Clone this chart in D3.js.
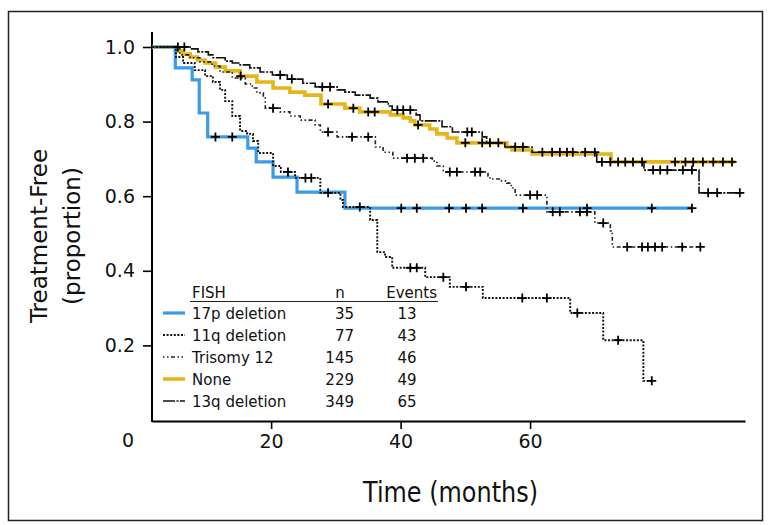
<!DOCTYPE html>
<html>
<head>
<meta charset="utf-8">
<script src="https://cdn.jsdelivr.net/npm/d3@7"></script>
<style>
  body { margin: 0; background: #fff; }
  text { font-family: "DejaVu Sans", sans-serif; fill: #111; }
</style>
</head>
<body>
<script>
// Kaplan-Meier step data (months, proportion treatment-free)
var months17p = [0, 5.2, 7.8, 8.9, 10.2, 16.4, 17.7, 20.3, 24.0, 31.4, 85.0];
var surv17p   = [1.0, 0.944, 0.912, 0.823, 0.759, 0.729, 0.692, 0.651, 0.611, 0.568, 0.568];
var cens17p   = [11.4, 14.0, 40.1, 42.5, 47.5, 50.1, 52.6, 58.9, 68.8, 78.8, 85.0];

var months11q = [0, 5.3, 6.4, 8.2, 9.8, 11.0, 12.1, 12.9, 14.0, 15.2, 16.3, 17.2, 18.0, 20.3, 21.5, 23.7, 27.6, 30.7, 31.1, 35.3, 36.4, 37.6, 38.7, 43.8, 47.6, 52.7, 66.2, 71.3, 77.5, 78.8];
var surv11q   = [1.0, 0.973, 0.957, 0.938, 0.922, 0.906, 0.885, 0.855, 0.815, 0.775, 0.767, 0.748, 0.716, 0.681, 0.665, 0.649, 0.609, 0.590, 0.571, 0.536, 0.450, 0.437, 0.408, 0.383, 0.357, 0.327, 0.287, 0.214, 0.105, 0.105];
var cens11q   = [22.6, 25.3, 26.2, 28.8, 33.7, 41.5, 42.5, 46.6, 50.1, 58.8, 62.6, 67.3, 73.6, 78.8];

var monthsT12 = [0, 5.9, 7.5, 9.0, 10.9, 12.1, 14.0, 16.0, 17.1, 17.8, 18.8, 19.1, 21.4, 22.9, 24.5, 26.8, 27.6, 30.2, 36.1, 37.3, 38.8, 44.9, 45.6, 46.6, 53.5, 53.8, 55.4, 56.4, 57.1, 57.7, 62.6, 70.0, 72.4, 72.7, 86.3];
var survT12   = [1.0, 0.979, 0.971, 0.960, 0.949, 0.933, 0.917, 0.901, 0.890, 0.877, 0.866, 0.836, 0.826, 0.815, 0.804, 0.791, 0.772, 0.759, 0.732, 0.718, 0.702, 0.694, 0.681, 0.665, 0.654, 0.646, 0.641, 0.635, 0.622, 0.603, 0.558, 0.528, 0.507, 0.464, 0.464];
var censT12   = [20.3, 28.8, 32.5, 35.0, 41.0, 42.2, 43.5, 47.6, 48.7, 51.5, 52.3, 60.0, 61.1, 63.5, 64.6, 67.7, 68.8, 71.3, 75.0, 77.3, 78.2, 79.3, 80.4, 83.5, 86.3];

var monthsNone = [0, 5.2, 6.3, 7.5, 8.6, 9.8, 11.4, 12.9, 15.2, 17.8, 20.3, 22.9, 25.2, 27.7, 31.4, 33.7, 38.4, 40.4, 41.5, 42.2, 44.5, 45.6, 47.2, 48.7, 56.4, 57.2, 60.3, 72.5, 91.7];
var survNone   = [1.0, 0.989, 0.981, 0.973, 0.965, 0.957, 0.946, 0.936, 0.922, 0.906, 0.890, 0.879, 0.871, 0.847, 0.836, 0.826, 0.818, 0.810, 0.802, 0.791, 0.780, 0.767, 0.756, 0.743, 0.732, 0.724, 0.713, 0.692, 0.692];
var censNone   = [15.3, 28.8, 32.7, 35.0, 36.0, 42.7, 50.0, 52.6, 53.8, 82.4, 84.0, 85.2, 86.7, 88.3, 89.8, 91.2];

var months13q = [0, 7.5, 8.7, 10.3, 11.0, 12.9, 14.0, 15.2, 16.7, 18.3, 20.2, 22.5, 24.9, 26.8, 30.2, 31.4, 33.0, 35.3, 36.5, 38.1, 38.7, 42.4, 43.0, 46.4, 48.0, 52.6, 53.3, 56.1, 60.3, 70.3, 77.6, 86.1, 92.7];
var surv13q   = [1.0, 0.995, 0.987, 0.979, 0.971, 0.962, 0.957, 0.952, 0.944, 0.933, 0.925, 0.914, 0.903, 0.893, 0.885, 0.879, 0.871, 0.863, 0.853, 0.842, 0.831, 0.818, 0.802, 0.786, 0.772, 0.759, 0.743, 0.732, 0.718, 0.692, 0.670, 0.609, 0.609];
var cens13q   = [5.6, 6.6, 21.4, 23.2, 27.9, 29.1, 39.5, 40.4, 41.5, 50.3, 51.0, 55.1, 57.7, 58.9, 61.9, 63.4, 64.6, 65.7, 66.6, 68.5, 70.0, 71.1, 72.4, 73.6, 74.7, 75.9, 77.3, 79.0, 80.1, 81.2, 83.6, 85.0, 87.5, 88.9, 92.4];

// legend table
var groupNames = ["17p deletion", "11q deletion", "Trisomy 12", "None", "13q deletion"];
var groupN = [35, 77, 145, 229, 349];
var groupEvents = [13, 43, 46, 49, 65];

var yTicks = [0.2, 0.4, 0.6, 0.8, 1.0];
var xTicks = [20, 40, 60];

var styles = {
    "17p deletion": { color: "#3a9be8", width: 3.2, dash: null },
    "11q deletion": { color: "#111", width: 1.9, dash: "2,1.6" },
    "Trisomy 12":   { color: "#222", width: 1.6, dash: "1.5,2.5,1.5,2.5,4,2.5" },
    "None":         { color: "#e6b619", width: 3.6, dash: null },
    "13q deletion": { color: "#111", width: 1.6, dash: "12,1.5,2,1.5" }
};

function makeSeries(name, months, surv, cens) {
    return {
        name: name,
        pts: months.map(function (m, i) { return [m, surv[i]]; }),
        cens: cens
    };
}

var series = [
    makeSeries("None", monthsNone, survNone, censNone),
    makeSeries("17p deletion", months17p, surv17p, cens17p),
    makeSeries("13q deletion", months13q, surv13q, cens13q),
    makeSeries("Trisomy 12", monthsT12, survT12, censT12),
    makeSeries("11q deletion", months11q, surv11q, cens11q)
];

function survAt(s, t) {
    var v = s.pts[0][1];
    s.pts.forEach(function (p) { if (p[0] <= t) v = p[1]; });
    return v;
}

var W = 771, H = 525;
var svg = d3.select("body").append("svg").attr("width", W).attr("height", H);

svg.append("rect")
    .attr("x", 8.5).attr("y", 11.5).attr("width", 754).attr("height", 509)
    .attr("fill", "none").attr("stroke", "#222").attr("stroke-width", 1.5);

var x = d3.scaleLinear().domain([1.6, 93.2]).range([152, 745]);
var y = d3.scaleLinear().domain([0, 1]).range([420, 47]);

svg.append("clipPath").attr("id", "plotclip")
    .append("rect").attr("x", 152).attr("y", 20).attr("width", 600).attr("height", 405);

// axes
var xAxis = svg.append("g").attr("transform", "translate(0,421)")
    .call(d3.axisBottom(x).tickValues(xTicks).tickSize(8).tickSizeOuter(0).tickPadding(6));
xAxis.select(".domain").attr("stroke-width", 2);
xAxis.selectAll(".tick line").attr("stroke-width", 1.6);
xAxis.selectAll("text").attr("font-size", 19).attr("font-family", "DejaVu Sans").attr("fill", "#111");

var yAxis = svg.append("g").attr("transform", "translate(152,0)")
    .call(d3.axisLeft(y).tickValues(yTicks).tickFormat(d3.format(".1f")).tickSize(9).tickSizeOuter(0).tickPadding(8));
yAxis.select(".domain").remove();
yAxis.selectAll(".tick line").attr("stroke-width", 1.6);
yAxis.selectAll("text").attr("font-size", 19).attr("font-family", "DejaVu Sans").attr("fill", "#111");
svg.append("line").attr("x1", 152).attr("x2", 152).attr("y1", 32).attr("y2", 422)
    .attr("stroke", "#000").attr("stroke-width", 2);

svg.append("text").attr("x", 128).attr("y", 447).attr("text-anchor", "middle")
    .attr("font-size", 19).text("0");

// axis titles
svg.append("text")
    .attr("transform", "translate(47,236) rotate(-90)")
    .attr("text-anchor", "middle").attr("font-size", 23)
    .text("Treatment-Free");
svg.append("text")
    .attr("transform", "translate(80,236) rotate(-90)")
    .attr("text-anchor", "middle").attr("font-size", 23)
    .text("(proportion)");
svg.append("text")
    .attr("x", 363).attr("y", 502)
    .attr("font-family", "Liberation Sans, Arial, sans-serif")
    .attr("font-size", 28)
    .attr("textLength", 175).attr("lengthAdjust", "spacingAndGlyphs")
    .text("Time (months)");

// curves
var line = d3.line()
    .x(function (d) { return x(d[0]); })
    .y(function (d) { return y(d[1]); })
    .curve(d3.curveStepAfter);

var plot = svg.append("g").attr("clip-path", "url(#plotclip)");

plot.selectAll("path.km")
    .data(series)
    .enter()
    .append("path")
    .attr("class", "km")
    .attr("d", function (d) { return line(d.pts); })
    .attr("fill", "none")
    .attr("stroke", function (d) { return styles[d.name].color; })
    .attr("stroke-width", function (d) { return styles[d.name].width; })
    .attr("stroke-dasharray", function (d) { return styles[d.name].dash; });

// censor ticks
series.forEach(function (s) {
    plot.selectAll(null)
        .data(s.cens)
        .enter()
        .append("path")
        .attr("transform", function (t) { return "translate(" + x(t) + "," + y(survAt(s, t)) + ")"; })
        .attr("d", "M-4.5,0H4.5M0,-4.5V4.5")
        .attr("stroke", "#000")
        .attr("stroke-width", 1.8);
});

// legend table
var lg = svg.append("g");
lg.append("text").attr("x", 192).attr("y", 298).attr("font-size", 15).text("FISH");
lg.append("text").attr("x", 340).attr("y", 298).attr("font-size", 15).attr("text-anchor", "middle").text("n");
lg.append("text").attr("x", 437).attr("y", 298).attr("font-size", 15).attr("text-anchor", "end").text("Events");
lg.append("line").attr("x1", 190).attr("x2", 438).attr("y1", 301.5).attr("y2", 301.5)
    .attr("stroke", "#222").attr("stroke-width", 1.2);

var rowY = function (i) { return 313 + i * 22; };

groupNames.forEach(function (name, i) {
    var st = styles[name];
    lg.append("line")
        .attr("x1", 163).attr("x2", 185)
        .attr("y1", rowY(i)).attr("y2", rowY(i))
        .attr("stroke", st.color)
        .attr("stroke-width", st.width)
        .attr("stroke-dasharray", st.dash);
    lg.append("text").attr("x", 192).attr("y", rowY(i) + 5.5).attr("font-size", 15).text(name);
    lg.append("text").attr("x", 354).attr("y", rowY(i) + 5.5).attr("font-size", 15)
        .attr("text-anchor", "end").text(groupN[i]);
    lg.append("text").attr("x", 407).attr("y", rowY(i) + 5.5).attr("font-size", 15)
        .attr("text-anchor", "middle").text(groupEvents[i]);
});
</script>
</body>
</html>
